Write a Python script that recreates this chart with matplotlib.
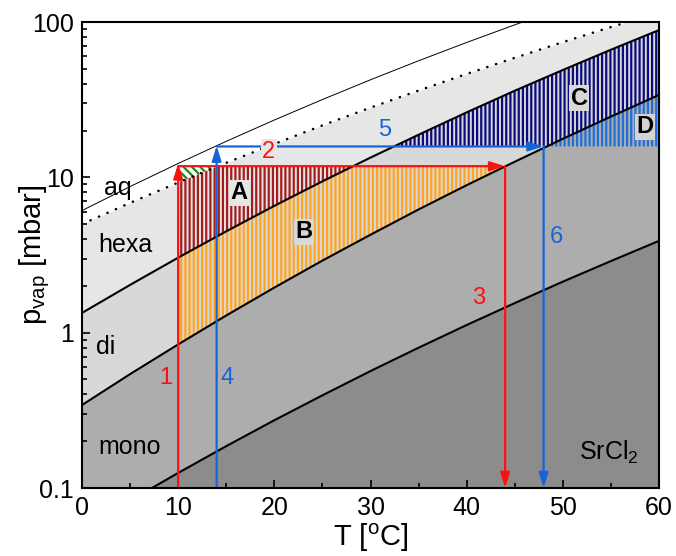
import numpy as np  # cálculos con arreglos
import matplotlib
matplotlib.use("Agg")
import matplotlib.pyplot as plt  # gráficos
from matplotlib.ticker import MultipleLocator, NullFormatter

plt.rcParams['font.family'] = ['Liberation Sans', 'DejaVu Sans']
plt.rcParams['mathtext.fontset'] = 'custom'
plt.rcParams['mathtext.rm'] = 'Liberation Sans'
plt.rcParams['mathtext.it'] = 'Liberation Sans:italic'
plt.rcParams['mathtext.bf'] = 'Liberation Sans:bold'
plt.rcParams['hatch.linewidth'] = 1.6

# Temperaturas (°C) de los puntos leídos
temp = [0, 5, 10, 15, 20, 25, 30, 35, 40, 45, 50, 55, 60]
# Presiones de vapor (mbar)
p_water = [6.11, 8.72, 12.28, 17.05, 23.39, 31.69, 42.46, 56.29, 73.84, 95.9, 123.5, 157.6, 199.3]
p_deliq = [5.0, 6.85, 9.26, 12.4, 16.4, 21.6, 28.1, 36.2, 46.3, 58.8, 74.2, 92.8, 115.0]
p_hexa_di = [1.34, 2.03, 3.04, 4.49, 6.55, 9.42, 13.4, 18.8, 26.2, 36.1, 49.1, 66.3, 88.7]
p_di_mono = [0.342, 0.541, 0.84, 1.29, 1.95, 2.91, 4.27, 6.21, 8.9, 12.6, 17.7, 24.6, 33.9]
p_mono_anh = [0.054, 0.083, 0.125, 0.186, 0.273, 0.395, 0.566, 0.80, 1.12, 1.55, 2.13, 2.89, 3.9]

# Ciclos (flechas): roja = 1-2-3, azul = 4-5-6
red_t = [10, 44]
red_p = 11.8
red_top = 12.3
blue_t = [14, 48]
blue_p = 15.8
blue_top = 16.0

fig = plt.figure(figsize=(6.76, 5.56), dpi=100)
ax = fig.add_axes([82 / 676, 1 - 488 / 556, 577 / 676, 466 / 556])

# Malla fina para rellenar las zonas (interpolación en escala log)
tt = np.linspace(0, 60, 1201)
def on_grid(p):
    return 10 ** np.interp(tt, temp, np.log10(p))

dq = on_grid(p_deliq)
hd = on_grid(p_hexa_di)
dm = on_grid(p_di_mono)
ma = on_grid(p_mono_anh)
low = np.full_like(tt, 0.05)

# Regiones grises de cada hidrato
ax.fill_between(tt, low, dq, color='#e6e6e6', lw=0, zorder=1)
ax.fill_between(tt, low, hd, color='#d8d8d8', lw=0, zorder=1)
ax.fill_between(tt, low, dm, color='#adadad', lw=0, zorder=1)
ax.fill_between(tt, low, ma, color='#8c8c8c', lw=0, zorder=1)

# Zonas rayadas
def hatched(bottom, top, mask, color, hatch='||||'):
    ax.fill_between(tt, bottom, top, where=mask & (top > bottom), interpolate=True,
                    facecolor='none', edgecolor=color, hatch=hatch, lw=0, zorder=2)

hatched(hd, np.minimum(dq, red_p), tt >= red_t[0], '#a51c1c')  # A
hatched(dq, np.full_like(tt, red_p), tt >= red_t[0], '#1b8a1b', hatch='\\\\\\\\')  # verde
hatched(dm, np.minimum(hd, red_p), (tt >= red_t[0]) & (tt <= red_t[1]), '#ffa522')  # B
hatched(np.maximum(dm, blue_p), hd, tt >= 0, '#0b0b80')  # C
hatched(np.full_like(tt, blue_p), dm, tt >= blue_t[1], '#1f6fdc')  # D

# Curvas de equilibrio
ax.plot(temp, p_water, color='black', lw=0.7, zorder=3)
ax.plot(temp, p_deliq, color='black', lw=1.8, ls=(0, (0.1, 3.6)), dash_capstyle='round', zorder=3)
ax.plot(temp, p_hexa_di, color='black', lw=1.5, zorder=3)
ax.plot(temp, p_di_mono, color='black', lw=1.5, zorder=3)
ax.plot(temp, p_mono_anh, color='black', lw=1.5, zorder=3)

# Flechas de los ciclos
def arrow(x0, y0, x1, y1, color):
    ax.annotate('', xy=(x1, y1), xytext=(x0, y0), zorder=4,
                arrowprops=dict(arrowstyle='-|>,head_length=0.45,head_width=0.14',
                                color=color, lw=1.6, shrinkA=0, shrinkB=0, mutation_scale=20))

red = '#ff1010'
blue = '#1565d8'
arrow(red_t[0], 0.1, red_t[0], red_top, red)
arrow(red_t[0], red_p, red_t[1], red_p, red)
arrow(red_t[1], red_p, red_t[1], 0.1, red)
arrow(blue_t[0], 0.1, blue_t[0], blue_top, blue)
arrow(blue_t[0], blue_p, blue_t[1], blue_p, blue)
arrow(blue_t[1], blue_p, blue_t[1], 0.1, blue)

# Etiquetas de regiones
for txt, x, y in [('aq', 3.75, 8.5), ('hexa', 4.5, 3.66), ('di', 2.5, 0.81),
                  ('mono', 4.9, 0.183), ('SrCl$_2$', 54.8, 0.17)]:
    ax.text(x, y, txt, fontsize=18, ha='center', va='center', zorder=5)

# Números de los pasos
for txt, x, y, c in [('1', 8.75, 0.51, red), ('2', 19.4, 14.6, red), ('3', 41.25, 1.67, red),
                     ('4', 15.1, 0.51, blue), ('5', 31.5, 20.2, blue), ('6', 49.3, 4.1, blue)]:
    kw = {}
    if txt == '2':
        kw['bbox'] = dict(facecolor='#e6e6e6', edgecolor='none', pad=1)
    ax.text(x, y, txt, fontsize=17, color=c, ha='center', va='center', zorder=5, **kw)

# Letras de las zonas rayadas
for txt, x, y, bg in [('A', 16.35, 7.93, '#e6e6e6'), ('B', 23.1, 4.45, '#d8d8d8'),
                      ('C', 51.7, 32.4, '#d8d8d8'), ('D', 58.5, 21.1, '#d4d4d4')]:
    ax.text(x, y, txt, fontsize=17, fontweight='bold', ha='center', va='center', zorder=5,
            bbox=dict(facecolor=bg, edgecolor='none', pad=1))

# Ejes
ax.set_xlim(0, 60)
ax.set_yscale('log')
ax.set_ylim(0.1, 100)
ax.set_yticks([0.1, 1, 10, 100], ['0.1', '1', '10', '100'])
ax.yaxis.set_minor_formatter(NullFormatter())
ax.xaxis.set_major_locator(MultipleLocator(10))
ax.xaxis.set_minor_locator(MultipleLocator(5))
ax.tick_params(which='both', direction='in', labelsize=18, width=1.2, pad=6)
ax.tick_params(which='major', length=6)
ax.tick_params(which='minor', length=3.5)
for s in ax.spines.values():
    s.set_linewidth(1.5)
    s.set_zorder(6)
ax.set_xlabel('T [$^{\\mathrm{o}}$C]', fontsize=21)
ax.set_ylabel('p$_{\\mathrm{vap}}$ [mbar]', fontsize=21)
ax.xaxis.set_label_coords(0.5, -0.072)
ax.yaxis.set_label_coords(-0.052, 0.5)

fig.savefig('out.png', dpi=100)
